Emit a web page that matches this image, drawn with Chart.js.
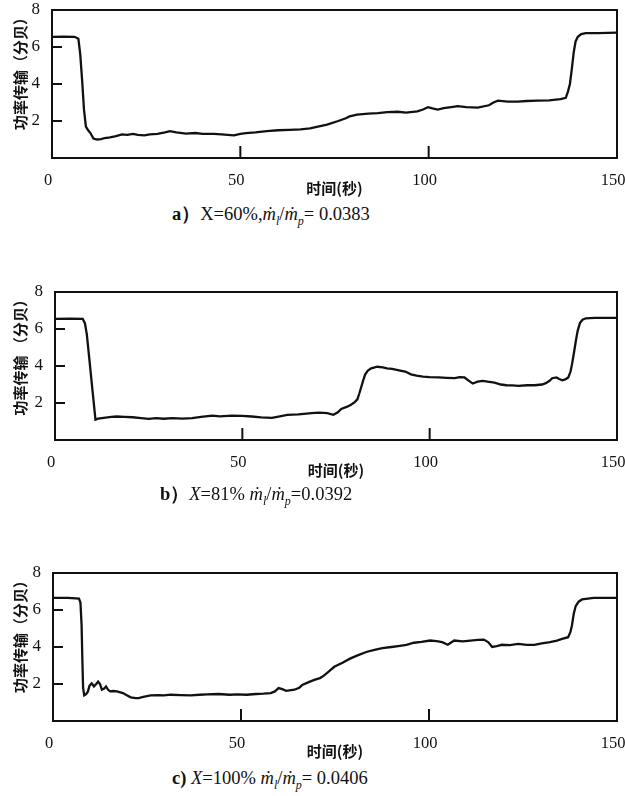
<!DOCTYPE html>
<html>
<head>
<meta charset="utf-8">
<script src="https://cdn.jsdelivr.net/npm/chart.js@4/dist/chart.umd.min.js"></script>
<style>
  body { margin: 0; background: #fff; width: 625px; height: 796px; position: relative; overflow: hidden; }
  canvas { position: absolute; left: 0; }
  .cap { position: absolute; white-space: nowrap; font-family: "Liberation Serif", "DejaVu Serif", serif; font-size: 18.5px; color: #111; }
  .cap sub { font-size: 12px; }
</style>
</head>
<body>
<canvas id="chartA" width="625" height="200" style="top:0px"></canvas>
<canvas id="chartB" width="625" height="200" style="top:282px"></canvas>
<canvas id="chartC" width="625" height="200" style="top:563px"></canvas>

<div class="cap" style="left:172px; top:201px;"><b>a）</b>X=60%,<i>ṁ<sub>l</sub></i>/<i>ṁ<sub>p</sub></i>= 0.0383</div>
<div class="cap" style="left:160px; top:481px;"><b>b）</b><i>X</i>=81% <i>ṁ<sub>l</sub></i>/<i>ṁ<sub>p</sub></i>=0.0392</div>
<div class="cap" style="left:172px; top:768px;"><b>c)</b> <i>X</i>=100% <i>ṁ<sub>l</sub></i>/<i>ṁ<sub>p</sub></i>= 0.0406</div>

<script>
// 时间轴刻度
const xTicks = [0, 50, 100, 150];
const yTicks = [2, 4, 6, 8];
// 向内的短刻度
const xInnerTicks = [50, 100];
const yInnerTicks = [2, 4, 6];

// a) X=60%
const timeA = [0, 3, 6, 7, 7.5, 8, 8.5, 9, 9.6, 10.2, 11, 12, 13, 14, 15.4, 17, 18.6, 20, 21.5, 22.8,
  24.5, 26, 28, 30, 31.3, 33, 35.6, 38, 40, 43, 45, 48.3, 50, 51.5, 54, 57, 60, 63, 66, 68.5,
  70.6, 73, 76, 78, 79, 81, 84, 86.5, 89, 91.8, 94, 97, 98.5, 99.8, 101, 102.4, 104, 106, 107.7, 110,
  113, 116, 117.2, 118.4, 121, 123.7, 126, 129, 132, 135, 136.4, 137, 137.5, 138, 138.5, 139, 139.6, 140.5, 141.7, 145, 150];
const powerA = [6.55, 6.56, 6.55, 6.45, 5.6, 4.2, 2.6, 1.7, 1.5, 1.35, 1.05, 1.0, 1.02, 1.08, 1.12, 1.18, 1.28, 1.25, 1.3, 1.25,
  1.22, 1.28, 1.3, 1.38, 1.45, 1.38, 1.32, 1.35, 1.3, 1.3, 1.28, 1.22, 1.3, 1.35, 1.38, 1.45, 1.5, 1.52, 1.55, 1.6,
  1.7, 1.8, 2.0, 2.15, 2.25, 2.35, 2.4, 2.43, 2.48, 2.5, 2.45, 2.52, 2.62, 2.75, 2.68, 2.62, 2.7, 2.75, 2.8, 2.75,
  2.72, 2.85, 3.0, 3.1, 3.05, 3.05, 3.08, 3.1, 3.12, 3.18, 3.25, 3.6, 4.0, 4.8, 5.7, 6.3, 6.55, 6.7, 6.75, 6.75, 6.78];

// b) X=81%
const timeB = [0, 4, 7.4, 8, 8.5, 9.2, 10, 10.8, 11.5, 13, 15, 16.5, 18.5, 20.7, 23, 25, 27, 29, 31.3, 34,
  36.6, 39, 42, 44, 47.2, 50, 52.5, 55, 57.9, 60, 62, 65, 68.5, 70.5, 72.7, 74.3, 75.5, 76.4, 78, 79,
  80, 80.7, 81.2, 81.7, 82.3, 82.8, 83.5, 84.4, 86, 87.5, 88.6, 90, 91.8, 93.5, 95, 96.5, 98.2, 100, 102.4, 104.5,
  106.7, 108, 109.3, 110.5, 111.5, 112.8, 114.1, 115.5, 117.3, 119, 120.5, 122, 123.7, 126, 128, 130, 131, 132, 132.7, 133.8,
  134.6, 135.4, 136.2, 137, 137.6, 138, 138.5, 139, 139.5, 140.1, 140.8, 141.7, 144, 150];
const powerB = [6.55, 6.56, 6.55, 6.3, 5.7, 4.3, 2.7, 1.1, 1.15, 1.2, 1.25, 1.27, 1.25, 1.23, 1.18, 1.14, 1.18, 1.15, 1.18, 1.16,
  1.18, 1.25, 1.32, 1.28, 1.32, 1.3, 1.27, 1.22, 1.2, 1.28, 1.36, 1.38, 1.45, 1.48, 1.45, 1.36, 1.5, 1.68, 1.8, 1.91,
  2.05, 2.2, 2.5, 2.84, 3.25, 3.55, 3.75, 3.87, 3.96, 3.92, 3.87, 3.85, 3.77, 3.7, 3.55, 3.48, 3.43, 3.4, 3.38, 3.36,
  3.34, 3.4, 3.38, 3.2, 3.05, 3.15, 3.2, 3.15, 3.1, 3.0, 2.96, 2.95, 2.93, 2.96, 2.96, 3.0, 3.07, 3.2, 3.34, 3.38,
  3.3, 3.23, 3.28, 3.38, 3.7, 4.1, 4.7, 5.34, 5.9, 6.32, 6.5, 6.58, 6.6, 6.6];

// c) X=100%
const timeC = [0, 4, 6.9, 7.3, 7.6, 7.8, 8.0, 8.3, 8.8, 9.3, 9.7, 10.3, 10.9, 11.5, 12, 12.5, 13, 13.6, 14.1, 14.6,
  15.2, 16, 17, 18.6, 19.5, 20.7, 22, 22.8, 24, 26, 28, 29.5, 31.3, 34, 36.6, 39, 41, 44, 47, 49,
  51.5, 54, 56, 57.9, 59, 60, 61, 62, 64.2, 65.5, 66.3, 68, 69.5, 71, 71.7, 73, 74.8, 77, 79, 81,
  83.3, 85.5, 87.6, 90, 91.8, 94, 96, 98, 100.3, 102, 103.5, 105, 106.7, 109, 111, 113, 114.6, 115.8, 116.8, 118,
  119.4, 121.5, 123.7, 126, 128, 130, 132.2, 134, 135.4, 137, 137.6, 138, 138.5, 139, 139.8, 140.7, 143.8, 150];
const powerC = [6.66, 6.66, 6.62, 6.4, 5.2, 3.4, 1.8, 1.39, 1.45, 1.6, 1.9, 2.04, 1.87, 2.0, 2.13, 2.0, 1.69, 1.75, 1.87, 1.7,
  1.6, 1.62, 1.6, 1.51, 1.4, 1.28, 1.24, 1.24, 1.3, 1.38, 1.4, 1.38, 1.42, 1.4, 1.39, 1.42, 1.44, 1.46, 1.42, 1.44,
  1.42, 1.46, 1.48, 1.51, 1.6, 1.78, 1.72, 1.63, 1.69, 1.8, 1.95, 2.1, 2.22, 2.32, 2.4, 2.62, 2.93, 3.15, 3.37, 3.55,
  3.73, 3.85, 3.94, 4.0, 4.05, 4.12, 4.23, 4.28, 4.35, 4.32, 4.26, 4.12, 4.35, 4.3, 4.35, 4.38, 4.4, 4.25, 4.0, 4.05,
  4.12, 4.1, 4.17, 4.12, 4.12, 4.2, 4.26, 4.35, 4.44, 4.53, 4.8, 5.15, 5.8, 6.2, 6.45, 6.57, 6.66, 6.66];

const ink = '#111';

// 画四周的边框和向内的刻度
const framePlugin = {
  id: 'frame',
  afterDraw(chart) {
    const ctx = chart.ctx;
    const a = chart.chartArea;
    const xs = chart.scales.x;
    const ys = chart.scales.y;
    ctx.save();
    ctx.strokeStyle = ink;
    ctx.lineWidth = 2;
    ctx.strokeRect(a.left, a.top, a.right - a.left, a.bottom - a.top);
    for (const v of xInnerTicks) {
      const px = xs.getPixelForValue(v);
      ctx.beginPath();
      ctx.moveTo(px, a.bottom);
      ctx.lineTo(px, a.bottom - 12);
      ctx.stroke();
    }
    for (const v of yInnerTicks) {
      const py = ys.getPixelForValue(v);
      ctx.beginPath();
      ctx.moveTo(a.left, py);
      ctx.lineTo(a.left + 10, py);
      ctx.stroke();
    }
    ctx.restore();
  }
};

function makeChart(id, times, values, yTitle, yWidth) {
  const ctx = document.getElementById(id).getContext('2d');
  new Chart(ctx, {
    type: 'line',
    data: {
      datasets: [{
        data: times.map((t, i) => ({ x: t, y: values[i] })),
        borderColor: ink,
        borderWidth: 2.3,
        pointRadius: 0,
        tension: 0,
        fill: false
      }]
    },
    options: {
      responsive: false,
      animation: false,
      layout: { padding: { top: 10, right: 8, left: 0, bottom: 0 } },
      plugins: { legend: { display: false }, tooltip: { enabled: false } },
      scales: {
        x: {
          type: 'linear',
          min: 0,
          max: 150,
          afterBuildTicks: s => { s.ticks = xTicks.map(v => ({ value: v })); },
          afterFit: s => { s.height = 42; s.paddingLeft = 0; s.paddingRight = 0; },
          border: { display: false },
          grid: { display: false },
          ticks: {
            padding: 5,
            labelOffset: -4,
            color: ink,
            font: { family: 'Liberation Serif', size: 16.5 },
            maxRotation: 0
          },
          title: {
            display: true,
            text: '时间(秒)',
            color: ink,
            font: { family: 'Noto Sans CJK SC', size: 15, weight: 'bold' },
            padding: { top: 0, bottom: 3 }
          }
        },
        y: {
          min: 0,
          max: 8,
          afterBuildTicks: s => { s.ticks = yTicks.map(v => ({ value: v })); },
          afterFit: s => { s.width = yWidth; s.paddingTop = 0; s.paddingBottom = 0; },
          border: { display: false },
          grid: { display: false },
          ticks: {
            padding: 4,
            color: ink,
            font: { family: 'Liberation Serif', size: 17 }
          },
          title: {
            display: true,
            text: yTitle,
            align: 'end',
            color: ink,
            font: { family: 'Noto Sans CJK SC', size: 15, weight: 'bold' },
            padding: { top: 11, bottom: 0 }
          }
        }
      }
    },
    plugins: [framePlugin]
  });
}

makeChart('chartA', timeA, powerA, '功率传输（分贝）', 52);
makeChart('chartB', timeB, powerB, '功率传输 （分贝）', 55);
makeChart('chartC', timeC, powerC, '功率传输（分贝）', 53);
</script>
</body>
</html>
